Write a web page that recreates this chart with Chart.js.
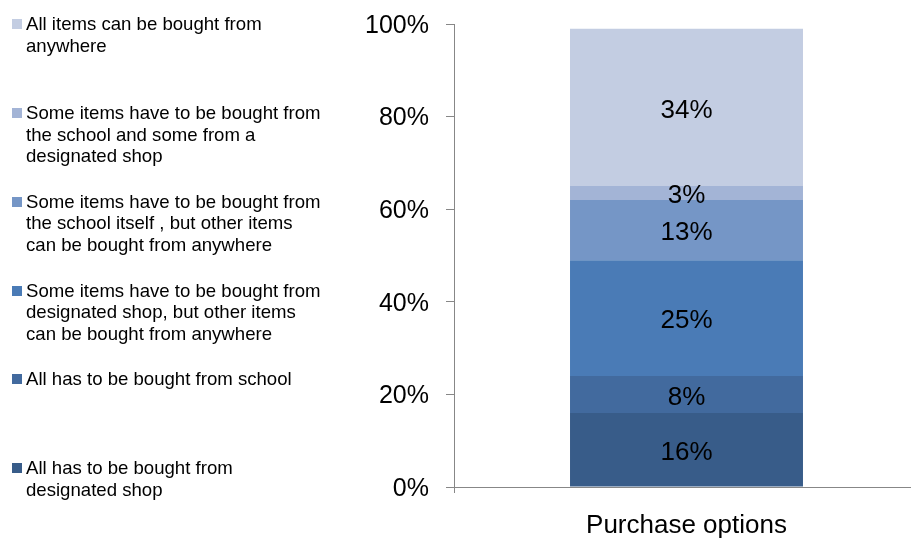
<!DOCTYPE html>
<html lang="en">
<head>
<meta charset="UTF-8">
<title>Purchase options</title>
<script src="https://cdn.jsdelivr.net/npm/chart.js@4.4.1/dist/chart.umd.min.js"></script>
<style>
    body { margin: 0; overflow: hidden; background: #fff; font-family: "Liberation Sans", Arial, sans-serif; }
    #wrap { position: absolute; left: 0; top: 0; width: 940px; height: 539px; }
    #legend { position: absolute; left: 0; top: 0; width: 340px; height: 539px; }
    .item { position: absolute; left: 26px; font-size: 18.6px; line-height: 21.5px; color: #000; white-space: nowrap; }
    .box { position: absolute; left: -14px; top: 6px; width: 10px; height: 10px; }
</style>
</head>
<body>
<div id="wrap"><canvas id="chart" width="940" height="539"></canvas></div>
<div id="legend"></div>

<script>
    // stacked from the bottom up
    const categories = ['Purchase options'];
    const seriesNames = [
        ['All has to be bought from', 'designated shop'],
        ['All has to be bought from school'],
        ['Some items have to be bought from', 'designated shop, but other items', 'can be bought from anywhere'],
        ['Some items have to be bought from', 'the school itself , but other items', 'can be bought from anywhere'],
        ['Some items have to be bought from', 'the school and some from a', 'designated shop'],
        ['All items can be bought from', 'anywhere']
    ];
    const seriesValues = [16, 8, 25, 13, 3, 34];
    const seriesColors = ['#385c89', '#426a9e', '#4a7bb6', '#7596c6', '#a3b4d6', '#c3cde2'];
    const yTicks = [0, 20, 40, 60, 80, 100];

    const axisGrey = '#878787';

    // legend on the left, top entry = top of the stack
    const legend = document.getElementById('legend');
    for (let i = seriesNames.length - 1, row = 0; i >= 0; i--, row++) {
        let div = document.createElement('div');
        div.className = 'item';
        div.style.top = (13.25 + row * 88.8) + 'px';
        div.innerHTML = '<span class="box" style="background:' + seriesColors[i] + '"></span>' + seriesNames[i].join('<br>');
        legend.appendChild(div);
    }

    const segmentLabels = {
        id: 'segmentLabels',
        afterDatasetsDraw(chart) {
            const ctx = chart.ctx;
            ctx.save();
            ctx.font = '26px "Liberation Sans", Arial, sans-serif';
            ctx.fillStyle = '#000';
            ctx.textAlign = 'center';
            ctx.textBaseline = 'middle';
            chart.data.datasets.forEach(function (ds, i) {
                chart.getDatasetMeta(i).data.forEach(function (bar, j) {
                    let p = bar.getProps(['x', 'y', 'base'], true);
                    ctx.fillText(ds.data[j] + '%', p.x, (p.y + p.base) / 2 + 3);
                });
            });
            ctx.restore();
        }
    };

    let datasets = [];
    for (let i = 0; i < seriesValues.length; i++) {
        datasets.push({
            label: seriesNames[i].join(' '),
            data: [seriesValues[i]],
            backgroundColor: seriesColors[i],
            borderWidth: 0,
            categoryPercentage: 1,
            barPercentage: 0.501
        });
    }

    new Chart(document.getElementById('chart'), {
        type: 'bar',
        data: { labels: categories, datasets: datasets },
        plugins: [segmentLabels],
        options: {
            responsive: false,
            animation: false,
            layout: { padding: { top: 24, right: 21, bottom: 0, left: 0 } },
            plugins: { legend: { display: false }, tooltip: { enabled: false } },
            scales: {
                x: {
                    stacked: true,
                    afterFit: function (scale) { scale.height = 52; },
                    border: { color: axisGrey, width: 1 },
                    grid: { drawOnChartArea: false, color: axisGrey, tickLength: 6, offset: true },
                    ticks: { color: '#000', padding: 17, font: { family: '"Liberation Sans", Arial, sans-serif', size: 26 } }
                },
                y: {
                    stacked: true,
                    min: 0,
                    max: 100,
                    afterFit: function (scale) {
                        scale.width = 454;
                        scale.paddingTop = 0;
                        scale.paddingBottom = 0;
                    },
                    afterBuildTicks: function (scale) { scale.ticks = yTicks.map(function (v) { return { value: v }; }); },
                    border: { color: axisGrey, width: 1 },
                    grid: { drawOnChartArea: false, color: axisGrey, tickLength: 8 },
                    ticks: {
                        color: '#000',
                        padding: 17,
                        labelOffset: 2,
                        font: { family: '"Liberation Sans", Arial, sans-serif', size: 25 },
                        callback: function (v) { return v + '%'; }
                    }
                }
            }
        }
    });
</script>
</body>
</html>
